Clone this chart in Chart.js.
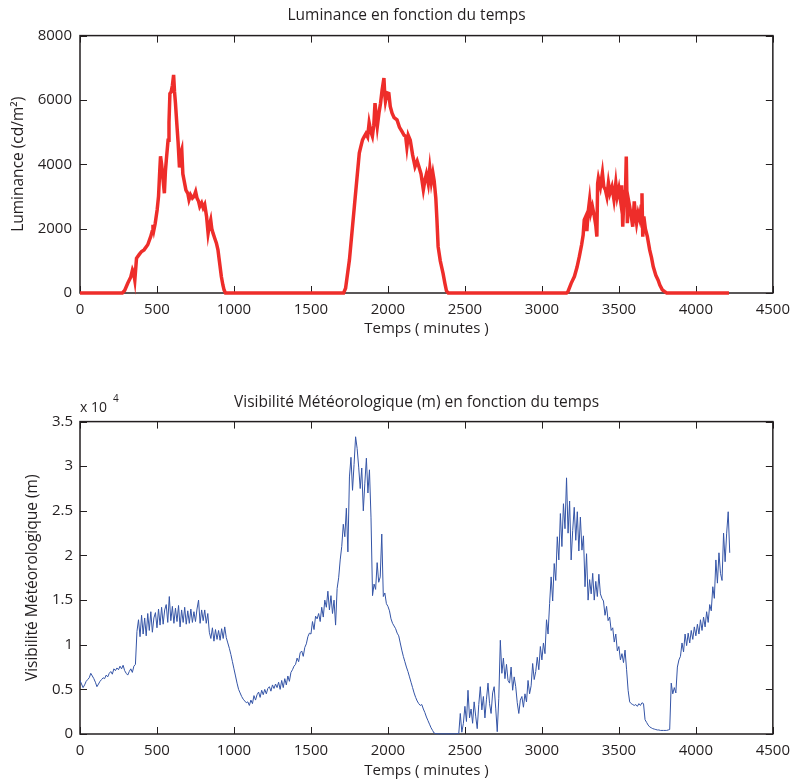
<!DOCTYPE html>
<html>
<head>
<meta charset="utf-8">
<script src="https://cdn.jsdelivr.net/npm/chart.js@4"></script>
<style>
  body { margin: 0; background: #fff; }
  #c1 { position: absolute; left: 0; top: 0; }
  #c2 { position: absolute; left: 0; top: 390px; }
</style>
</head>
<body>
<canvas id="c1" width="798" height="345"></canvas>
<canvas id="c2" width="798" height="393"></canvas>
<script>
// temps (minutes) et luminance (cd/m2)
const lumTimes = [
  0, 275, 290, 310, 330, 341, 348, 356, 367, 385, 400, 416, 440, 459, 468, 474, 480, 488, 501, 510,
  518, 523, 530, 540, 548, 555, 561, 572, 578, 584, 592, 600, 608, 614, 620, 629, 637, 646, 652, 661,
  668, 676, 688, 700, 708, 718, 730, 740, 751, 760, 770, 778, 790, 800, 810, 822, 832, 840, 849, 856,
  864, 875, 886, 896, 905, 918, 928, 936, 945,
  1712, 1725, 1750, 1782, 1814, 1824, 1835, 1845, 1857, 1868, 1878, 1890, 1899, 1908, 1916, 1924, 1931,
  1942, 1952, 1962, 1974, 1979, 1984, 1995, 2006, 2015, 2027, 2040, 2059, 2075, 2091, 2105, 2115, 2123,
  2132, 2145, 2160, 2176, 2190, 2200, 2215, 2230, 2240, 2250, 2262, 2272, 2282, 2292, 2300, 2311, 2318,
  2326, 2340, 2358, 2370, 2380, 2392,
  3160, 3169, 3190, 3211, 3228, 3243, 3258, 3268, 3275, 3285, 3292, 3300, 3310, 3318, 3328, 3340, 3350,
  3357, 3362, 3367, 3380, 3393, 3402, 3412, 3422, 3432, 3442, 3455, 3468, 3480, 3489, 3500, 3510, 3518,
  3525, 3535, 3542, 3548, 3555, 3562, 3570, 3580, 3590, 3600, 3606, 3615, 3625, 3635, 3645, 3650, 3655,
  3662, 3672, 3685, 3700, 3712, 3723, 3740, 3755, 3766, 3782, 3798, 3810, 4215
];
const lumValues = [
  0, 0, 80, 300, 500, 720, 640, 400, 1080, 1200, 1290, 1340, 1500, 1750, 1900, 2120, 1960, 2150, 2580, 3000,
  3800, 4250, 4000, 3500, 3100, 3800, 4150, 4750, 5300, 6200, 6250, 6450, 6780, 6250, 5900, 5250, 4700, 3900, 4300, 4450,
  3700, 3500, 3200, 3100, 2900, 3050, 2950, 3000, 3150, 2950, 2850, 2690, 2800, 2650, 2750, 2380, 1860, 2100, 2270, 2000,
  1860, 1700, 1550, 1340, 1000, 510, 250, 90, 0,
  0, 150, 1030, 2690, 4350, 4550, 4760, 4850, 4950, 4850, 5290, 5000, 4870, 5200, 5900, 5500, 5180,
  5600, 5900, 6300, 6680, 6200, 5960, 6220, 6200, 5800, 5590, 5450, 5380, 5150, 5020, 4900, 4870, 4540,
  4900, 4750, 4300, 3930, 4100, 3950, 3700, 3210, 3500, 3700, 3400, 3880, 3450, 3730, 3500, 2950, 2300,
  1440, 1000, 610, 300, 70, 0,
  0, 40, 300, 510, 800, 1130, 1500, 1800, 2270, 2380, 1920, 2500, 2900, 2500, 2690, 2400, 2100,
  1750, 3400, 3570, 3300, 3730, 3300, 3210, 3000, 3420, 3100, 3300, 2900, 3420, 3000, 3250, 2900, 3350,
  2060, 3210, 3000, 4240, 2170, 2900, 2690, 2400, 2060, 2850, 2500, 2170, 2480, 2300, 2700, 3100, 1750,
  2380, 2000, 1750, 1340, 1100, 820, 550, 400, 250, 100, 40, 0, 0
];

// visibilite (m), un point toutes les 10 minutes a partir de t = 0
const visStart = 0;
const visStep = 10;
const visValues = [
  6000, 5600, 5200, 5500, 5900, 6100, 6300, 6800, 6500, 6200,
  5800, 5300, 5600, 5900, 6100, 6300, 6200, 6600, 6400, 6800,
  7000, 6700, 7300, 7100, 7400, 7200, 7600, 7300, 7700, 7100,
  6800, 6600, 7000, 7300, 6900, 7600, 7800, 11500, 12800, 10900,
  13300, 11200, 13000, 11000, 13500, 11600, 13700, 11400, 13000, 13600,
  11900, 14000, 12200, 14200, 12300, 13900, 14500, 12500, 15400, 12700,
  14300, 12400, 14100, 12600, 14400, 12000, 13900, 12500, 14200, 12300,
  13800, 12400, 14000, 12500, 13700, 12600, 14000, 15000, 12400, 13900,
  12700, 13900, 12400, 13500, 11400, 10700, 11900, 10400, 11700, 10600,
  11600, 10500, 11800, 10700, 12000, 10800, 10200, 9600, 8900, 8100,
  7300, 6500, 5700, 5000, 4600, 4200, 3900, 3700, 3500, 3600,
  3200, 3800, 3400, 4300, 3800, 4400, 4700, 4100, 4900, 4400,
  5000, 4500, 5100, 5300, 4800, 5500, 5100, 5600, 5200, 5800,
  5000, 6000, 5200, 6200, 5500, 6500, 5900, 6900, 7200, 7600,
  7800, 8500, 8100, 9100, 9300, 8700, 9700, 10100, 10900, 11300,
  11200, 12600, 11700, 13200, 12900, 13500, 12600, 14200, 13100, 15000,
  14200, 16000, 13900, 15500, 13500, 15000, 12200, 16300, 17500, 19500,
  21000, 23500, 22100, 25300, 20400, 28800, 31000, 27300, 30200, 33300,
  32000, 29900, 27500, 29800, 25000, 28100, 30900, 27000, 29600, 24300,
  15500, 16800, 16200, 19200, 17000, 17600, 22400, 15400, 15800, 14600,
  14300, 13800, 12900, 12400, 12100, 11800, 11300, 11000, 10200, 9400,
  8700, 8100, 7500, 7000, 6400, 5800, 5200, 4600, 4100, 3700,
  3400, 3200, 3300, 2800, 2400, 1900, 1500, 1100, 700, 400,
  100, 50, 30, 20, 20, 20, 20, 20, 20, 20,
  20, 20, 20, 20, 30, 50, 30, 2300, 200, 1200,
  3100, 1400, 4900, 1800, 2800, 1200, 3600, 2000, 600, 3300,
  5300, 2700, 4200, 1800, 3900, 5700, 3400, 2300, 4600, 5300,
  2900, 260, 4000, 10500, 6800, 8500, 6200, 7800, 6000, 5700,
  7500, 4900, 6400, 5300, 3500, 2300, 3800, 4200, 3000, 4500,
  3600, 6000, 4500, 5400, 7900, 6100, 7000, 8600, 7200, 9800,
  8300, 10200, 9000, 12800, 11200, 14600, 17600, 14900, 19100, 17200,
  22100, 19500, 24700, 21000, 25800, 23000, 28700, 22500, 26100, 19500,
  22800, 25400, 21700, 24900, 20500, 24300, 20600, 22200, 16500, 20200,
  15000, 17300, 15700, 18000, 15000, 17100, 15400, 17900, 15700, 15200,
  14900, 13300, 14300, 12700, 13100, 11600, 11900, 10300, 11200, 9300,
  9800, 8300, 9000, 8000, 9400, 7200, 4900, 3600, 3400, 3300,
  3200, 3300, 3100, 3400, 3200, 3500, 3400, 1600, 1300, 1000,
  800, 700, 600, 550, 500, 450, 450, 400, 400, 400,
  400, 400, 450, 500, 5700, 4500, 5200, 4600, 7500, 8300,
  8700, 10200, 9200, 11200, 9900, 11300, 10200, 11600, 10600, 12000,
  11000, 12300, 11200, 12800, 11600, 13100, 12000, 13700, 12500, 14500,
  13800, 16500, 15200, 19500, 16900, 20300, 18000, 17200, 22500, 19300,
  22500, 24900, 20300
];

const xTicks = [0, 500, 1000, 1500, 2000, 2500, 3000, 3500, 4000, 4500];
const lumTicks = [0, 2000, 4000, 6000, 8000];
const visTicks = [0, 5000, 10000, 15000, 20000, 25000, 30000, 35000];

const FONT = "'Open Sans', sans-serif";
const INK = '#231f20';

// cadre et graduations vers l'interieur, comme sous MATLAB
const boxPlugin = {
  id: 'box',
  beforeDatasetsDraw(chart) {
    const { ctx, chartArea: a, scales: { x, y } } = chart;
    ctx.save();
    ctx.strokeStyle = INK;
    ctx.lineWidth = 1;
    ctx.beginPath();
    x.ticks.forEach(t => {
      const px = Math.round(x.getPixelForValue(t.value)) + 0.5;
      ctx.moveTo(px, a.bottom); ctx.lineTo(px, a.bottom - 7);
      ctx.moveTo(px, a.top); ctx.lineTo(px, a.top + 7);
    });
    y.ticks.forEach(t => {
      const py = Math.round(y.getPixelForValue(t.value)) + 0.5;
      ctx.moveTo(a.left, py); ctx.lineTo(a.left + 7, py);
      ctx.moveTo(a.right, py); ctx.lineTo(a.right - 7, py);
    });
    ctx.stroke();
    ctx.lineWidth = 1.5;
    ctx.strokeRect(a.left, a.top, a.right - a.left, a.bottom - a.top);
    ctx.restore();
  }
};

// facteur "x 10^4" au-dessus de l'axe
const expPlugin = {
  id: 'exp',
  afterDraw(chart, args, opts) {
    if (!opts.show) return;
    const { ctx, chartArea: a } = chart;
    ctx.save();
    ctx.fillStyle = INK;
    ctx.textBaseline = 'middle';
    ctx.font = '14px ' + FONT;
    ctx.fillText('x 10', a.left, a.top - 14);
    ctx.font = '10px ' + FONT;
    ctx.fillText('4', a.left + 33, a.top - 22);
    ctx.restore();
  }
};

function xScale(axisHeight, titlePad) {
  return {
    type: 'linear', min: 0, max: 4500,
    afterBuildTicks: s => { s.ticks = xTicks.map(v => ({ value: v })); },
    afterFit: s => { s.height = axisHeight; },
    grid: { display: false, drawTicks: false },
    border: { display: false },
    ticks: { color: INK, padding: 8, maxRotation: 0, font: { family: FONT, size: 15 },
      callback: v => String(v) },
    title: { display: true, text: 'Temps ( minutes )', color: INK,
      font: { family: FONT, size: 15 }, padding: { top: 0, bottom: titlePad } }
  };
}

new Chart(document.getElementById('c1'), {
  type: 'line',
  data: {
    datasets: [{
      data: lumTimes.map((t, i) => ({ x: t, y: lumValues[i] })),
      borderColor: 'rgb(238,45,42)',
      borderWidth: 3.5,
      pointRadius: 0,
      tension: 0,
      clip: 4
    }]
  },
  options: {
    responsive: false,
    animation: false,
    layout: { padding: { left: 30, right: 15, top: 0, bottom: 0 } },
    plugins: {
      legend: { display: false },
      tooltip: { enabled: false },
      title: { display: true, text: 'Luminance en fonction du temps', color: INK,
        font: { family: FONT, size: 15.5, weight: 'normal' }, padding: { top: 6, bottom: 11 } },
      exp: { show: false }
    },
    scales: {
      x: xScale(52, 7),
      y: {
        min: 0, max: 8000,
        afterBuildTicks: s => { s.ticks = lumTicks.map(v => ({ value: v })); },
        afterFit: s => { s.width = 50; },
        grid: { display: false, drawTicks: false },
        border: { display: false },
        ticks: { color: INK, padding: 8, font: { family: FONT, size: 15 },
          callback: v => String(v) },
        title: { display: true, text: 'Luminance (cd/m²)', color: INK,
          font: { family: FONT, size: 15.5 }, padding: { top: -20.3, bottom: 0 } }
      }
    }
  },
  plugins: [boxPlugin, expPlugin]
});

new Chart(document.getElementById('c2'), {
  type: 'line',
  data: {
    datasets: [{
      data: visValues.map((v, i) => ({ x: visStart + i * visStep, y: v })),
      borderColor: 'rgb(52,84,166)',
      borderWidth: 1,
      pointRadius: 0,
      tension: 0,
      clip: 2
    }]
  },
  options: {
    responsive: false,
    animation: false,
    layout: { padding: { left: 50, right: 15, top: 0, bottom: 0 } },
    plugins: {
      legend: { display: false },
      tooltip: { enabled: false },
      title: { display: true, text: 'Visibilité Météorologique (m) en fonction du temps', color: INK,
        font: { family: FONT, size: 15.5, weight: 'normal' }, padding: { top: 3, bottom: 10 } },
      exp: { show: true }
    },
    scales: {
      x: xScale(49, 3),
      y: {
        min: 0, max: 35000,
        afterBuildTicks: s => { s.ticks = visTicks.map(v => ({ value: v })); },
        afterFit: s => { s.width = 30; },
        grid: { display: false, drawTicks: false },
        border: { display: false },
        ticks: { color: INK, padding: 7, font: { family: FONT, size: 15 },
          callback: v => String(v / 10000) },
        title: { display: true, text: 'Visibilité Météorologique (m)', color: INK,
          font: { family: FONT, size: 15.5 }, padding: { top: -26.3, bottom: 0 } }
      }
    }
  },
  plugins: [boxPlugin, expPlugin]
});
</script>
</body>
</html>
